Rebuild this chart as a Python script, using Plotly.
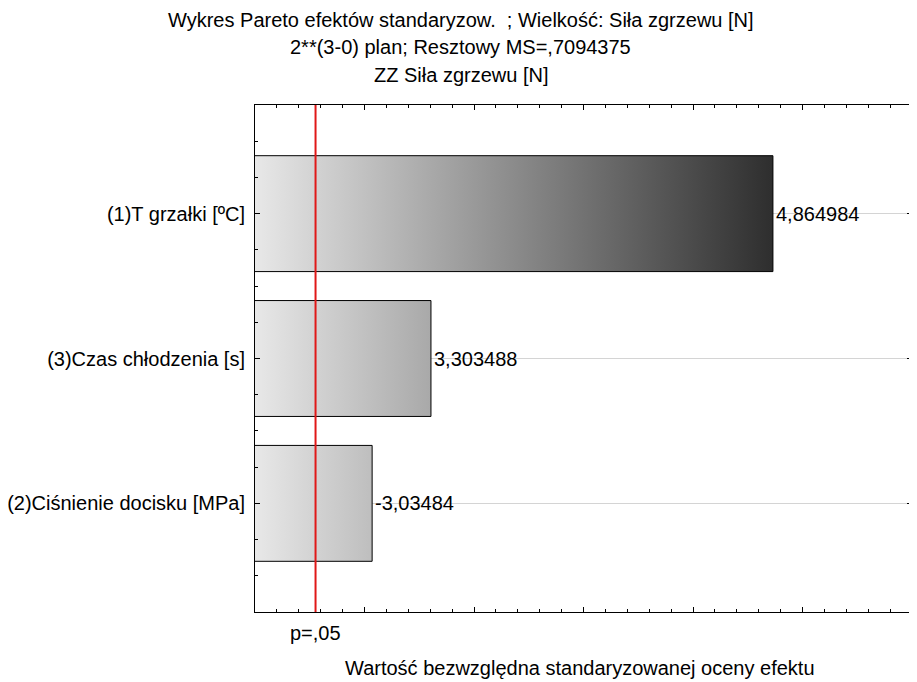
import plotly.graph_objects as go

# Pareto chart of standardized effects, sorted by |effect| (top -> bottom)
factors = ["(1)T grzałki [ºC]", "(3)Czas chłodzenia [s]", "(2)Ciśnienie docisku [MPa]"]
effects = [4.864984, 3.303488, -3.03484]
effect_labels = ["4,864984", "3,303488", "-3,03484"]
t_crit = 2.776445  # p=.05 for df=4
x_range = [2.5, 5.5]

title_lines = [
    "Wykres Pareto efektów standaryzow. \u00a0; Wielkość: Siła zgrzewu [N]",
    "2**(3-0) plan; Resztowy MS=,7094375",
    "ZZ Siła zgrzewu [N]",
]
x_title = "Wartość bezwzględna standaryzowanej oceny efektu"

FONT = "Liberation Sans, Arial, sans-serif"
FS = 20
half = 0.4  # half bar thickness in category units

fig = go.Figure()
stop = max(abs(e) for e in effects)
for i, e in enumerate(effects):
    a = abs(e)
    fig.add_trace(go.Scatter(
        x=[0, a, a, 0, 0], y=[i - half, i - half, i + half, i + half, i - half],
        mode="lines", fill="toself",
        line={"color": "black", "width": 1},
        fillgradient={"type": "horizontal", "start": x_range[0], "stop": stop,
                      "colorscale": [[0, "#e8e8e8"], [1, "#2e2e2e"]]},
        hoverinfo="skip", showlegend=False))
    fig.add_annotation(x=a, y=i, text=effect_labels[i], showarrow=False,
                       xanchor="left", xshift=1, font={"size": FS, "color": "black"})

# critical t line
fig.add_shape(type="line", x0=t_crit, x1=t_crit, y0=0, y1=1, yref="paper",
              line={"color": "#e01818", "width": 2})
fig.add_annotation(x=t_crit, y=0, yref="paper", yshift=-21, yanchor="middle",
                   xanchor="center", text="p=,05", showarrow=False,
                   font={"size": FS, "color": "black"})

# three-line title, centred on the page
for line, shift in zip(title_lines, [85, 58, 30]):
    fig.add_annotation(x=0.3135, xref="paper", y=1, yref="paper", yshift=shift,
                       xanchor="center", yanchor="middle", text=line, showarrow=False,
                       font={"size": FS, "color": "black"})

# axis title
fig.add_annotation(x=0.495, xref="paper", y=0, yref="paper", yshift=-56,
                   xanchor="center", yanchor="middle", text=x_title, showarrow=False,
                   font={"size": FS, "color": "black"})

fig.update_layout(
    width=909, height=674,
    margin={"l": 247, "r": 5, "t": 97, "b": 70, "autoexpand": False},
    paper_bgcolor="white", plot_bgcolor="white",
    font={"family": FONT, "size": FS, "color": "black"},
    showlegend=False,
)
fig.update_xaxes(
    range=x_range, showticklabels=False, showgrid=False, zeroline=False,
    showline=True, linecolor="black", linewidth=1, mirror="allticks",
    ticks="inside", dtick=0.5, tick0=2.5, ticklen=5, tickcolor="black",
    minor={"dtick": 0.1, "ticks": "inside", "ticklen": 3, "tickcolor": "black"},
    automargin=False,
)
fig.update_yaxes(
    range=[len(factors) - 1 + 0.75, -0.75], tickvals=list(range(len(factors))),
    ticktext=factors, showgrid=True, gridcolor="#d4d4d4", gridwidth=1, zeroline=False,
    showline=True, linecolor="black", linewidth=1, mirror="allticks",
    ticks="inside", ticklen=5, tickcolor="black", ticklabelstandoff=5,
    minor={"dtick": 0.25, "tick0": 0, "ticks": "inside", "ticklen": 3,
           "tickcolor": "black", "showgrid": False},
    tickfont={"size": FS}, automargin=False,
)

fig.write_html("out.html")
